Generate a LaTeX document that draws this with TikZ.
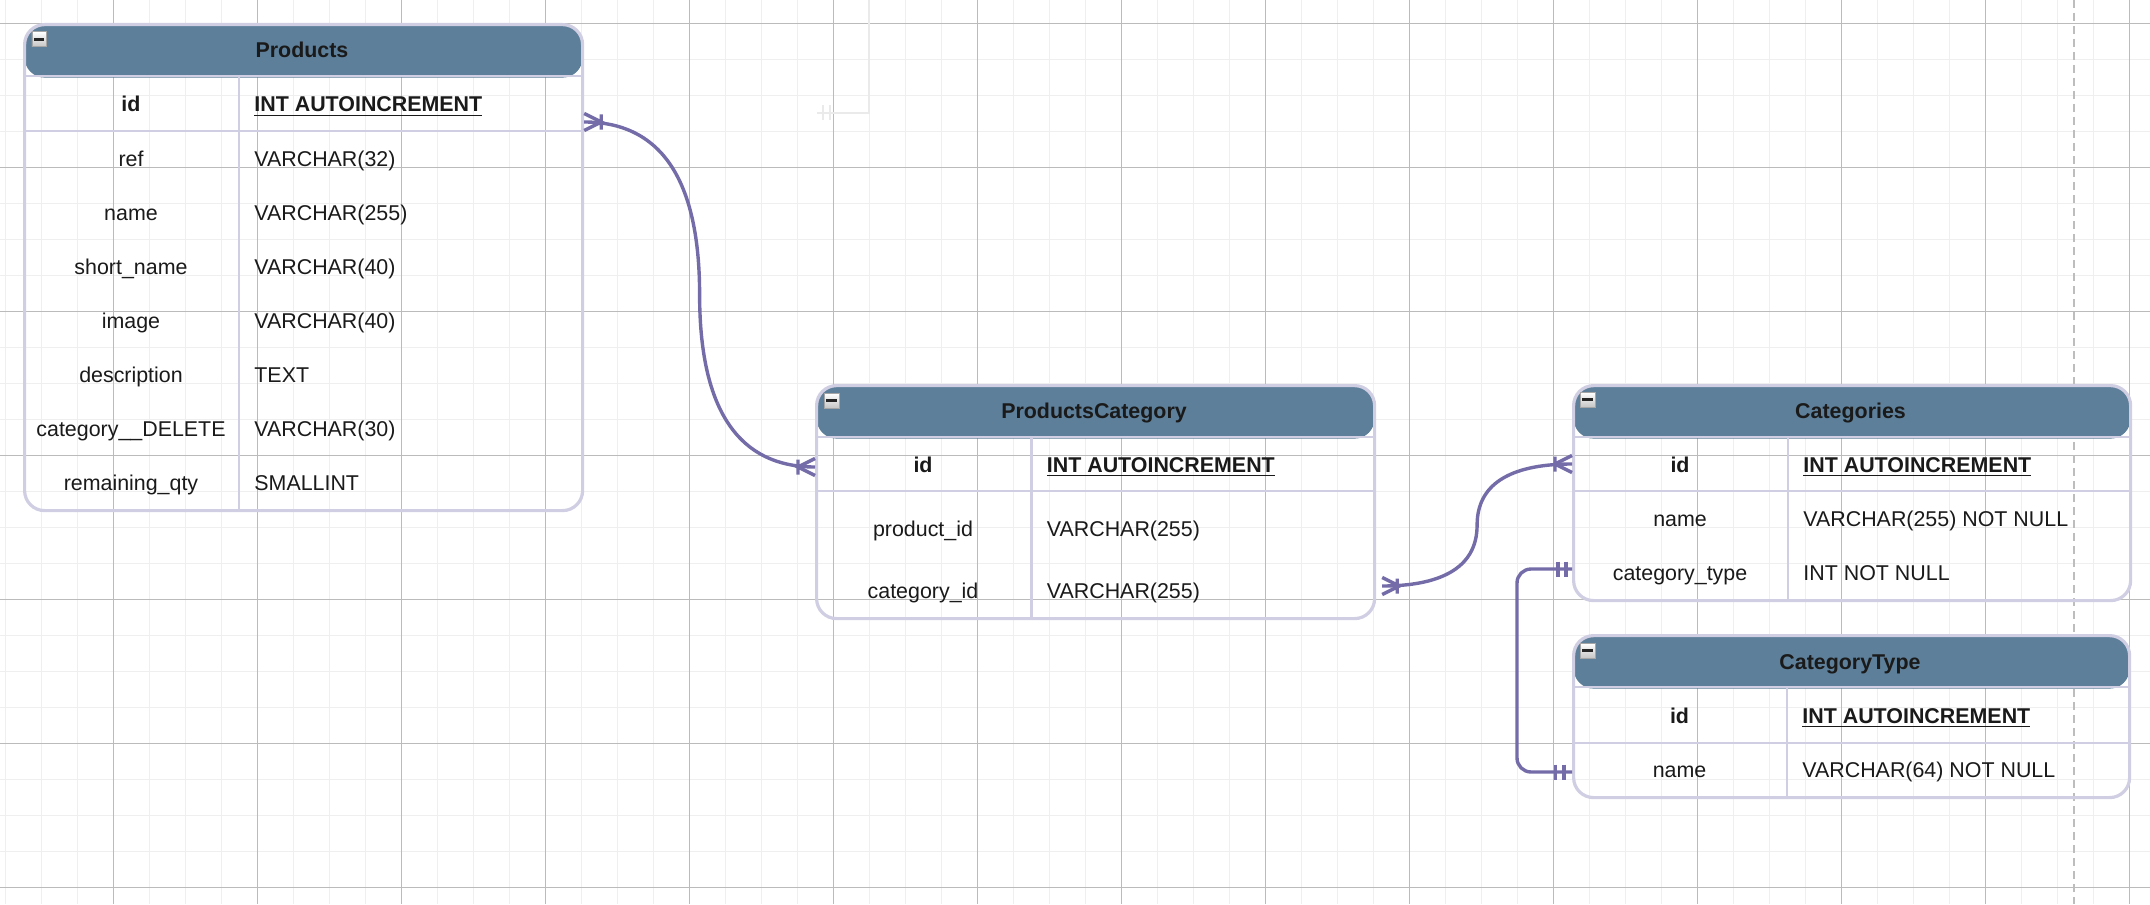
\documentclass[tikz,border=0pt]{standalone}
\usepackage{fontspec}
\setmainfont{Liberation Sans}
\usetikzlibrary{calc}

\definecolor{hdrfill}{HTML}{5D7F99}
\definecolor{tblline}{HTML}{D0CEE2}
\definecolor{relline}{HTML}{736CA8}
\definecolor{txt}{HTML}{1A1A1A}
\definecolor{gridlight}{HTML}{EFEFEF}
\definecolor{griddark}{HTML}{BBBBBB}
\definecolor{pageline}{HTML}{BDBDBD}
\definecolor{ghost}{HTML}{EAEAEA}

\newcommand{\erfont}{\fontsize{10.7}{13}\selectfont}

\begin{document}
\begin{tikzpicture}[x=0.5pt, y=-0.5pt,
  minorgrid/.style={gridlight, line width=0.7pt},
  majorgrid/.style={griddark, line width=0.5pt},
  tablebox/.style={draw=tblline, line width=1.6pt, rounded corners=10pt,
    anchor=north west, inner sep=0pt,
    path picture={\fill[hdrfill] (path picture bounding box.north west)
      rectangle ([yshift=-26.5pt]path picture bounding box.north east);}},
  minusbtn/.style={draw=gray!70, line width=0.4pt, top color=white, bottom color=gray!45,
    anchor=north west, inner sep=0pt, minimum size=7.3pt,
    path picture={\draw[black!85, line width=1.5pt] ([xshift=1pt]path picture bounding box.west)
      -- ([xshift=-1.2pt]path picture bounding box.east);}},
  sepline/.style={tblline, line width=1.4pt},
  cell/.style={text=txt, font=\erfont, inner sep=0pt, text height=8pt, text depth=0pt},
  typecell/.style={cell, anchor=west},
  keycell/.style={cell, font=\erfont\bfseries},
  keytype/.style={typecell, font=\erfont\bfseries},
  tbltitle/.style={keycell},
  relation/.style={relline, line width=1.7pt},
  ghostline/.style={ghost, line width=1pt}]

\useasboundingbox (0,0) rectangle (2150,904);
\fill[white] (0,0) rectangle (2150,904);

%% 격자
\foreach \i in {0,...,59} \draw[minorgrid] ({5.5+36*\i},0) -- ({5.5+36*\i},904);
\foreach \j in {0,...,24} \draw[minorgrid] (0,{23.3+36*\j}) -- (2150,{23.3+36*\j});
\foreach \i in {0,...,14} \draw[majorgrid] ({113+144*\i},0) -- ({113+144*\i},904);
\foreach \j in {0,...,6} \draw[majorgrid] (0,{23.3+144*\j}) -- (2150,{23.3+144*\j});
\draw[pageline, line width=0.75pt, dash pattern=on 4pt off 2.5pt] (2074,0) -- (2074,904); % 페이지 경계

% 흐린 연결선 흔적
\coordinate (g1) at (869,0);
\coordinate (g2) at (817,113);
\draw[ghostline] (g1) |- (g2);
\draw[ghostline] (g2) ++(6,-7.5) -- ++(0,15) (g2) ++(13,-7.5) -- ++(0,15);

%% Products 표
\begin{scope}
\node[tablebox, minimum width=279pt, minimum height=243pt] (products) at (23,23) {};
\node[minusbtn] (products-btn) at (31.5,31.5) {};
\draw[sepline] (23,76) -- (581,76) (23,131) -- (581,131) (239,76) -- (239,509);
\node[tbltitle] (products-title) at (302,50) {Products};
\node[keycell] (p-id) at (131,104) {id};
\node[keytype] (p-id-t) at (254,104) {\underline{INT AUTOINCREMENT}};
\node[cell] (p-ref) at (131,158) {ref};
\node[typecell] (p-ref-t) at (254,158) {VARCHAR(32)};
\node[cell] (p-name) at (131,212) {name};
\node[typecell] (p-name-t) at (254,212) {VARCHAR(255)};
\node[cell] (p-short) at (131,266) {short\_name};
\node[typecell] (p-short-t) at (254,266) {VARCHAR(40)};
\node[cell] (p-image) at (131,320) {image};
\node[typecell] (p-image-t) at (254,320) {VARCHAR(40)};
\node[cell] (p-desc) at (131,374) {description};
\node[typecell] (p-desc-t) at (254,374) {TEXT};
\node[cell] (p-catdel) at (131,428) {category\_\_DELETE};
\node[typecell] (p-catdel-t) at (254,428) {VARCHAR(30)};
\node[cell] (p-qty) at (131,482) {remaining\_qty};
\node[typecell] (p-qty-t) at (254,482) {SMALLINT};
\end{scope}

%% ProductsCategory 표
\begin{scope}
\node[tablebox, minimum width=279pt, minimum height=116.5pt] (pc) at (815,384) {};
\node[minusbtn] (pc-btn) at (824,393) {};
\draw[sepline] (815,437) -- (1373,437) (815,491) -- (1373,491) (1031.5,437) -- (1031.5,617);
\node[tbltitle] (pc-title) at (1094,410.5) {ProductsCategory};
\node[keycell] (pc-id) at (923,464) {id};
\node[keytype] (pc-id-t) at (1046.5,464) {\underline{INT AUTOINCREMENT}};
\node[cell] (pc-prod) at (923,528) {product\_id};
\node[typecell] (pc-prod-t) at (1046.5,528) {VARCHAR(255)};
\node[cell] (pc-cat) at (923,590) {category\_id};
\node[typecell] (pc-cat-t) at (1046.5,590) {VARCHAR(255)};
\end{scope}

%% Categories 표
\begin{scope}
\node[tablebox, minimum width=278.5pt, minimum height=107.5pt] (cat) at (1572,384) {};
\node[minusbtn] (cat-btn) at (1580,392) {};
\draw[sepline] (1572,437) -- (2129,437) (1572,491) -- (2129,491) (1788,437) -- (1788,599);
\node[tbltitle] (cat-title) at (1850.5,410.5) {Categories};
\node[keycell] (cat-id) at (1680,464) {id};
\node[keytype] (cat-id-t) at (1803,464) {\underline{INT AUTOINCREMENT}};
\node[cell] (cat-name) at (1680,518) {name};
\node[typecell] (cat-name-t) at (1803,518) {VARCHAR(255) NOT NULL};
\node[cell] (cat-type) at (1680,572) {category\_type};
\node[typecell] (cat-type-t) at (1803,572) {INT NOT NULL};
\end{scope}

%% CategoryType 표
\begin{scope}
\node[tablebox, minimum width=278pt, minimum height=81pt] (ct) at (1572,634) {};
\node[minusbtn] (ct-btn) at (1580,643) {};
\draw[sepline] (1572,687) -- (2128,687) (1572,743) -- (2128,743) (1787,687) -- (1787,796);
\node[tbltitle] (ct-title) at (1850,661) {CategoryType};
\node[keycell] (ct-id) at (1679.5,715.5) {id};
\node[keytype] (ct-id-t) at (1802,715.5) {\underline{INT AUTOINCREMENT}};
\node[cell] (ct-name) at (1679.5,769.5) {name};
\node[typecell] (ct-name-t) at (1802,769.5) {VARCHAR(64) NOT NULL};
\end{scope}

%% 연결선
\coordinate (a1) at ($(products.east |- p-id)+(0,18)$);
\coordinate (a2) at ($(pc.west |- pc-id)+(0,3)$);
\draw[relation] (a1) .. controls +(80,0) and +(0,-110) .. ($(a1)!.5!(a2)$)
  .. controls +(0,110) and +(-80,0) .. (a2);
\draw[relation] (a1) ++(0,-8.5) -- ++(17,8.5) -- ++(-17,8.5) (a1) ++(17,-7.5) -- ++(0,15);
\draw[relation] (a2) ++(0,-8.5) -- ++(-17,8.5) -- ++(17,8.5) (a2) ++(-17,-7.5) -- ++(0,15);

\coordinate (b1) at ($(pc.east |- pc-cat)+(6,-4)$);
\coordinate (b2) at (cat.west |- cat-id);
\draw[relation] (b1) .. controls +(55,0) and +(0,45) .. ($(b1)!.5!(b2)$)
  .. controls +(0,-45) and +(-55,0) .. (b2);
\draw[relation] (b1) ++(0,-8.5) -- ++(17,8.5) -- ++(-17,8.5) (b1) ++(15,-7.5) -- ++(0,15);
\draw[relation] (b2) ++(0,-8.5) -- ++(-17,8.5) -- ++(17,8.5) (b2) ++(-17,-7.5) -- ++(0,15);

\coordinate (c1) at ($(cat.west |- cat-type)+(0,-3)$);
\coordinate (c2) at ($(ct.west |- ct-name)+(0,2.5)$);
\draw[relation, rounded corners=7pt] (c1) -- ++(-55,0) |- (c2);
\draw[relation] (c1) ++(-6,-7.5) -- ++(0,15) (c1) ++(-14,-7.5) -- ++(0,15);
\draw[relation] (c2) ++(-8,-7.5) -- ++(0,15) (c2) ++(-16.5,-7.5) -- ++(0,15);
\end{tikzpicture}
\end{document}
